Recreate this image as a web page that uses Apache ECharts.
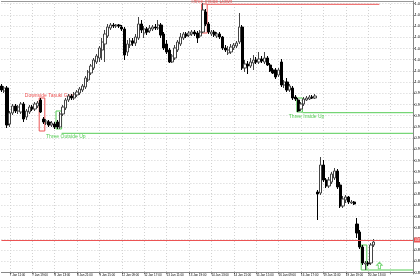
<!DOCTYPE html>
<html><head><meta charset="utf-8">
<script src="https://cdn.jsdelivr.net/npm/echarts@6/dist/echarts.min.js"></script>
<style>html,body{margin:0;padding:0;background:#fff}#c{width:420px;height:280px}</style>
</head><body><div id="c"></div>
<script>
// ---- data ----
const opens = [1.004,0.999,1.002,0.966,0.977,0.984,0.979,0.978,0.986,0.973,
 0.978,0.983,0.981,0.984,0.990,0.971,0.967,0.968,0.965,0.966,
 0.968,0.963,0.976,0.982,0.990,0.994,0.992,0.995,0.997,1.000,
 1.003,1.010,1.017,1.022,1.028,1.032,1.040,1.046,1.054,1.062,
 1.065,1.064,1.065,1.063,1.061,1.038,1.045,1.049,1.047,1.052,
 1.066,1.057,1.061,1.059,1.061,1.063,1.062,1.065,1.056,1.046,
 1.040,1.028,1.032,1.040,1.046,1.052,1.056,1.055,1.056,1.058,
 1.057,1.054,1.058,1.078,1.066,1.056,1.058,1.054,1.056,1.053,
 1.042,1.037,1.038,1.042,1.044,1.048,1.063,1.022,1.026,1.024,
 1.027,1.030,1.028,1.031,1.028,1.032,1.025,1.020,1.020,1.015,
 1.028,1.005,1.008,1.000,1.002,0.993,0.990,0.981,0.986,0.990,
 0.991,0.993,0.992,0.898,0.897,0.925,0.910,0.904,0.908,0.912,
 0.919,0.905,0.884,0.890,0.893,0.887,0.888,0.866,0.858,0.843,
 0.826,0.827,0.827,0.845];
const closes = [1.000,1.002,0.965,0.977,0.984,0.979,0.983,0.986,0.971,0.979,
 0.983,0.981,0.986,0.987,0.978,0.968,0.969,0.965,0.967,0.963,
 0.963,0.976,0.983,0.990,0.994,0.992,0.996,0.998,1.001,1.004,
 1.012,1.018,1.024,1.030,1.034,1.042,1.048,1.056,1.063,1.065,
 1.064,1.065,1.064,1.061,1.035,1.046,1.049,1.047,1.053,1.066,
 1.060,1.061,1.058,1.062,1.063,1.062,1.065,1.055,1.042,1.038,
 1.028,1.034,1.042,1.048,1.053,1.056,1.054,1.057,1.058,1.056,
 1.052,1.058,1.080,1.066,1.058,1.058,1.055,1.056,1.053,1.042,
 1.040,1.040,1.043,1.045,1.047,1.063,1.022,1.026,1.024,1.028,
 1.030,1.028,1.031,1.029,1.032,1.025,1.019,1.017,1.013,1.020,
 1.005,1.008,1.000,1.004,0.992,0.991,0.979,0.986,0.991,0.992,
 0.993,0.992,0.994,0.896,0.925,0.910,0.904,0.910,0.916,0.919,
 0.903,0.884,0.891,0.893,0.888,0.888,0.886,0.857,0.843,0.827,
 0.827,0.826,0.845,0.848];
const highs = [1.006,1.004,1.004,0.979,0.986,0.986,0.985,0.988,0.988,0.981,
 0.985,0.985,0.988,0.989,0.992,0.973,0.971,0.970,0.969,0.968,
 0.970,0.978,0.985,0.992,0.996,0.996,0.998,1.000,1.003,1.006,
 1.014,1.020,1.026,1.032,1.036,1.044,1.052,1.060,1.066,1.067,
 1.067,1.066,1.066,1.065,1.063,1.050,1.052,1.052,1.056,1.073,
 1.070,1.064,1.063,1.065,1.065,1.066,1.070,1.067,1.058,1.050,
 1.042,1.036,1.045,1.050,1.057,1.058,1.058,1.059,1.060,1.060,
 1.059,1.060,1.087,1.081,1.068,1.060,1.060,1.058,1.058,1.054,
 1.045,1.044,1.046,1.047,1.049,1.077,1.065,1.030,1.029,1.032,
 1.035,1.033,1.038,1.034,1.038,1.034,1.027,1.022,1.022,1.022,
 1.031,1.010,1.012,1.006,1.004,0.995,0.992,0.988,0.993,0.994,
 0.995,0.995,0.996,0.900,0.933,0.930,0.912,0.913,0.918,0.922,
 0.921,0.908,0.894,0.895,0.894,0.890,0.889,0.872,0.860,0.845,
 0.829,0.829,0.847,0.851];
const lows = [0.998,0.997,0.962,0.963,0.975,0.977,0.976,0.976,0.968,0.970,
 0.976,0.979,0.979,0.982,0.977,0.966,0.965,0.963,0.963,0.961,
 0.961,0.961,0.974,0.980,0.988,0.990,0.990,0.993,0.995,0.998,
 1.001,1.008,1.015,1.020,1.026,1.028,1.030,1.028,1.052,1.060,
 1.062,1.062,1.062,1.059,1.030,1.034,1.042,1.044,1.044,1.050,
 1.057,1.052,1.055,1.057,1.059,1.060,1.060,1.052,1.040,1.036,
 1.027,1.027,1.030,1.038,1.044,1.050,1.052,1.053,1.054,1.054,
 1.047,1.052,1.057,1.064,1.056,1.054,1.053,1.052,1.051,1.040,
 1.038,1.035,1.036,1.040,1.042,1.046,1.020,1.018,1.016,1.022,
 1.020,1.026,1.026,1.027,1.026,1.024,1.018,1.016,1.011,1.013,
 1.003,1.002,0.998,0.998,0.990,0.989,0.978,0.979,0.984,0.989,
 0.990,0.991,0.991,0.870,0.895,0.908,0.902,0.902,0.906,0.910,
 0.901,0.882,0.882,0.887,0.886,0.886,0.885,0.852,0.841,0.825,
 0.820,0.824,0.825,0.843];

const barCount = 148; // chart slots incl. empty right margin
const tickBars = [3,11,19,27,35,43,51,59,67,75,83,91,99,107,115,123,131,139,147];
const tickLabels = ['7 Jan 11:00','7 Jan 19:00','8 Jan 13:00','8 Jan 21:00','9 Jan 15:00',
 '12 Jan 09:00','12 Jan 17:00','13 Jan 11:00','13 Jan 19:00','14 Jan 13:00','14 Jan 21:00',
 '15 Jan 15:00','16 Jan 09:00','16 Jan 17:00','19 Jan 11:00','19 Jan 19:00','20 Jan 13:00','',''];

const priceMin = 0.8176, priceMax = 1.089, priceStep = 0.0112;
const currentPrice = 0.848;

const patternNames = ['Downside Tasuki Gap','Three Outside Up','Three Inside Down','Three Inside Up',''];
const patternFirst = [14, 20, 72, 106, 129];
const patternLast  = [15, 21, 73, 107, 130];
const patternHigh  = [0.992, 0.979, 1.086, 0.992, 0.845];
const patternLow   = [0.959, 0.961, 1.057, 0.978, 0.820];
const patternBull  = [false, true, false, true, true];
const levelValue   = [null, 0.9567, 1.0857, 0.9773, 0.820];
const levelEnd     = [null, 147, 135, 147, 147];

const arrowBars = [135];
const arrowValues = [0.8245];

// ---- chart ----
const RED = '#ec5454', GREEN = '#55cc55';
const categories = Array.from({length: barCount}, (_, i) => String(i));
const candleData = opens.map((o, i) => [o, closes[i], lows[i], highs[i]]);
const isTick = (i) => tickBars.indexOf(i) >= 0;

const chart = echarts.init(document.getElementById('c'), null, {renderer: 'canvas'});
chart.setOption({
  animation: false,
  backgroundColor: '#fff',
  textStyle: {fontFamily: 'Liberation Sans'},
  grid: {left: 1.4, right: 7, top: 1, bottom: 7.6, containLabel: false, outerBoundsMode: 'none'},
  xAxis: [{
    type: 'category', data: categories, boundaryGap: false,
    axisLine: {lineStyle: {color: '#888', width: 1}},
    axisTick: {show: true, length: 2, interval: (i) => isTick(i), lineStyle: {color: '#888'}},
    axisLabel: {
      interval: (i) => isTick(i),
      formatter: (v) => { const k = tickBars.indexOf(Number(v)); return k >= 0 ? tickLabels[k] : ''; },
      align: 'left', fontSize: 3, margin: 1.5, color: '#000'
    },
    splitLine: {show: true, interval: (i) => isTick(i), lineStyle: {color: '#d2d2d2', type: [1, 2], width: 1}}
  }, {
    type: 'category', data: categories, boundaryGap: false, position: 'top',
    axisLine: {lineStyle: {color: '#999'}}, axisTick: {show: false},
    axisLabel: {show: false}, splitLine: {show: false}
  }],
  yAxis: {
    type: 'value', position: 'right', min: priceMin, max: priceMax, interval: priceStep,
    axisLine: {show: true, lineStyle: {color: '#888'}},
    axisTick: {show: true, length: 2, lineStyle: {color: '#888'}},
    axisLabel: {fontSize: 4, margin: 1.5, color: '#000', showMaxLabel: false, formatter: (v) => v.toFixed(4)},
    splitLine: {show: true, lineStyle: {color: '#d2d2d2', type: [1, 2], width: 1}}
  },
  series: [{
    type: 'candlestick',
    data: candleData,
    barWidth: 2.6,
    itemStyle: {color: '#fff', color0: '#000', borderColor: '#444', borderColor0: '#000', borderWidth: 1},
    markLine: {
      silent: true, symbol: ['none', 'none'],
      data: [{yAxis: currentPrice}],
      lineStyle: {color: RED, type: 'solid', width: 1},
      label: {position: 'end', distance: 1, formatter: (p) => Number(p.value).toFixed(4),
        fontSize: 3, color: '#fff', backgroundColor: RED, padding: [1, 1]}
    }
  }, {
    type: 'custom',
    clip: false,
    data: patternNames.map((n, i) => [patternFirst[i], patternLast[i], patternHigh[i], patternLow[i], i]),
    encode: {x: [0, 1], y: [2, 3]},
    renderItem: (params, api) => {
      const idx = api.value(4);
      const band = api.size([1, 0])[0];
      const color = patternBull[idx] ? GREEN : RED;
      const p1 = api.coord([api.value(0), api.value(2)]);
      const p2 = api.coord([api.value(1), api.value(3)]);
      const x0 = p1[0] - band / 2, x1 = p2[0] + band / 2;
      const children = [{
        type: 'rect',
        shape: {x: x0, y: p1[1], width: x1 - x0, height: p2[1] - p1[1]},
        style: {fill: 'none', stroke: color, lineWidth: 1}
      }];
      if (levelValue[idx] !== null) {
        const a = api.coord([api.value(1), levelValue[idx]]);
        const b = api.coord([levelEnd[idx], levelValue[idx]]);
        children.push({type: 'line', shape: {x1: a[0] + band / 2, y1: a[1], x2: b[0], y2: b[1]},
          style: {stroke: color, lineWidth: 1}});
      }
      if (patternNames[idx]) {
        const bull = patternBull[idx];
        const t = api.coord([api.value(1) + 2, bull ? levelValue[idx] : api.value(2)]);
        children.push({type: 'text', style: {text: patternNames[idx], x: t[0], y: bull ? t[1] + 1 : t[1],
          fill: color, fontSize: 5, fontFamily: 'Liberation Sans', align: 'center',
          verticalAlign: bull ? 'top' : 'bottom'}});
      }
      return {type: 'group', children};
    }
  }, {
    type: 'scatter',
    data: arrowBars.map((b, i) => [b, arrowValues[i]]),
    symbol: 'path://M5,0 L10,5 L7,5 L7,11 L3,11 L3,5 L0,5 Z',
    symbolSize: [5.5, 6.5],
    itemStyle: {color: '#fff', borderColor: GREEN, borderWidth: 1}
  }]
});
</script></body></html>
